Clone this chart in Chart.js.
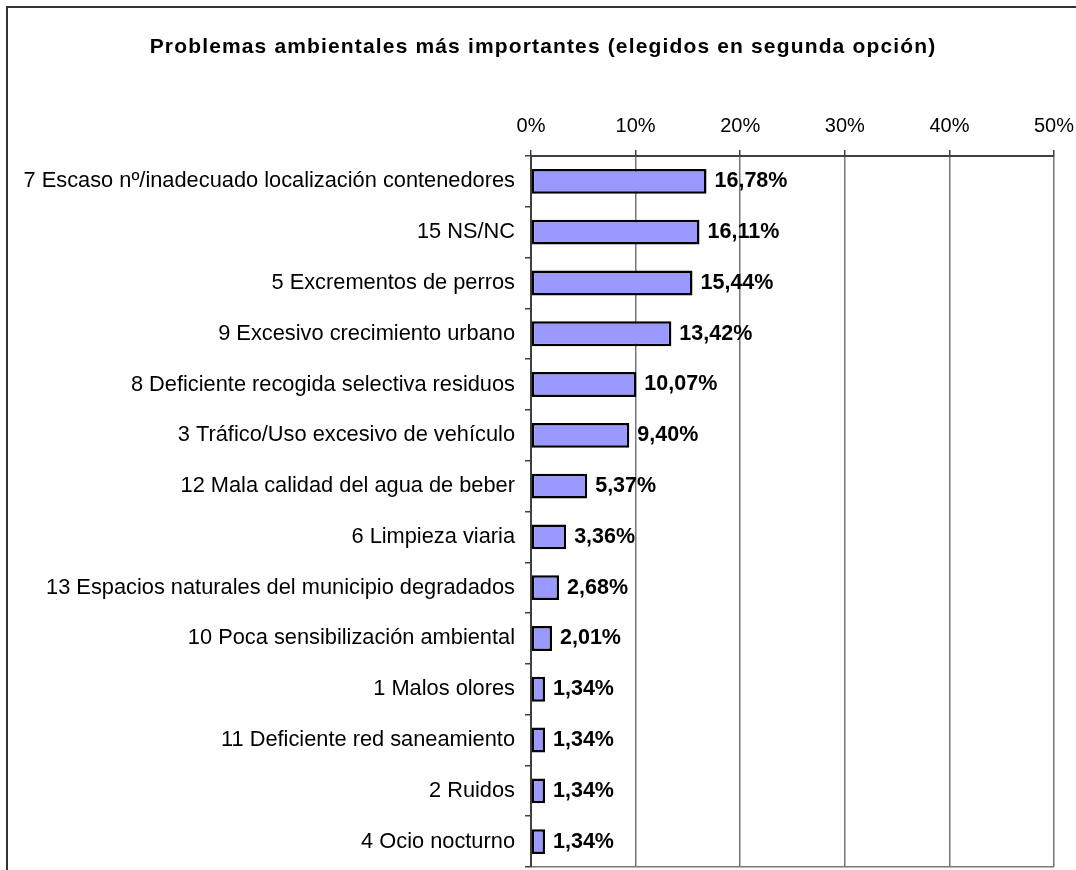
<!DOCTYPE html>
<html>
<head>
<meta charset="utf-8">
<script src="https://cdn.jsdelivr.net/npm/chart.js@4"></script>
<style>
  html, body { margin: 0; padding: 0; background: #fff; overflow: hidden; }
  #wrap { position: relative; width: 1076px; height: 870px; overflow: hidden; }
  #frame { position: absolute; left: 6px; top: 6px; width: 1200px; height: 1000px;
           border-left: 2px solid #333; border-top: 2px solid #333; }
  #grafico { position: absolute; left: 0; top: 0; }
</style>
</head>
<body>
<div id="wrap">
  <div id="frame"></div>
  <canvas id="grafico" width="1100" height="900"></canvas>
</div>
<script>
const categorias = [
  "7 Escaso nº/inadecuado localización contenedores",
  "15 NS/NC",
  "5 Excrementos de perros",
  "9 Excesivo crecimiento urbano",
  "8 Deficiente recogida selectiva residuos",
  "3 Tráfico/Uso excesivo de vehículo",
  "12 Mala calidad del agua de beber",
  "6 Limpieza viaria",
  "13 Espacios naturales del municipio degradados",
  "10 Poca sensibilización ambiental",
  "1 Malos olores",
  "11 Deficiente red saneamiento",
  "2 Ruidos",
  "4 Ocio nocturno"
];
const porcentajes = [16.78, 16.11, 15.44, 13.42, 10.07, 9.40, 5.37, 3.36, 2.68, 2.01, 1.34, 1.34, 1.34, 1.34];
const marcasEje = [0, 10, 20, 30, 40, 50];
const titulo = "Problemas ambientales más importantes (elegidos en segunda opción)";

const fuente = "'Liberation Sans', Arial, sans-serif";

// etiquetas de valor al final de cada barra
const etiquetas = {
  id: "etiquetasValor",
  afterDatasetsDraw(chart) {
    const { ctx } = chart;
    const meta = chart.getDatasetMeta(0);
    ctx.save();
    ctx.font = "bold 21.5px " + fuente;
    ctx.fillStyle = "#000";
    ctx.textAlign = "left";
    ctx.textBaseline = "middle";
    meta.data.forEach((barra, i) => {
      const texto = porcentajes[i].toFixed(2).replace(".", ",") + "%";
      ctx.fillText(texto, barra.x + 8, barra.y);
    });
    ctx.restore();
  }
};

// el título del original tiene las letras algo separadas y va algo a la derecha
const espaciadoTitulo = {
  id: "espaciadoTitulo",
  afterInit(chart) {
    const tb = chart.titleBlock;
    if (!tb) return;
    const original = tb.draw.bind(tb);
    tb.draw = function () {
      chart.ctx.save();
      chart.ctx.translate(16, 0);
      chart.ctx.letterSpacing = "1.15px";
      original();
      chart.ctx.restore();
    };
  }
};

new Chart(document.getElementById("grafico"), {
  type: "bar",
  data: {
    labels: categorias,
    datasets: [{
      data: porcentajes,
      backgroundColor: "#9999FF",
      borderColor: "#000",
      borderWidth: 2.5,
      borderSkipped: false,
      categoryPercentage: 1,
      barPercentage: 0.49
    }]
  },
  options: {
    indexAxis: "y",
    responsive: false,
    animation: false,
    layout: { padding: { left: 0, right: 46, top: 0, bottom: 33 } },
    plugins: {
      legend: { display: false },
      tooltip: { enabled: false },
      title: {
        display: true,
        text: titulo,
        color: "#000",
        font: { family: fuente, size: 21, weight: "bold" },
        padding: { top: 35, bottom: 0 }
      }
    },
    scales: {
      x: {
        position: "top",
        min: 0,
        max: 50,
        afterBuildTicks(scale) {
          scale.ticks = marcasEje.map(v => ({ value: v }));
        },
        afterFit(scale) { scale.height = 156 - 35 - 25.2; },
        ticks: {
          color: "#000",
          font: { family: fuente, size: 20 },
          padding: 12,
          callback: v => v + "%"
        },
        grid: { color: "#777", lineWidth: 1.5, tickLength: 6, tickColor: "#404040" },
        border: { color: "#404040", width: 2 }
      },
      y: {
        afterFit(scale) { scale.width = 531; },
        ticks: {
          color: "#000",
          font: { family: fuente, size: 21.8 },
          padding: 10
        },
        grid: {
          offset: true,
          tickLength: 6,
          tickColor: "#404040",
          lineWidth: 1.5,
          color: c => (c.tick ? "rgba(0,0,0,0)" : "#777")
        },
        border: { color: "#404040", width: 2 }
      }
    }
  },
  plugins: [etiquetas, espaciadoTitulo]
});
</script>
</body>
</html>
